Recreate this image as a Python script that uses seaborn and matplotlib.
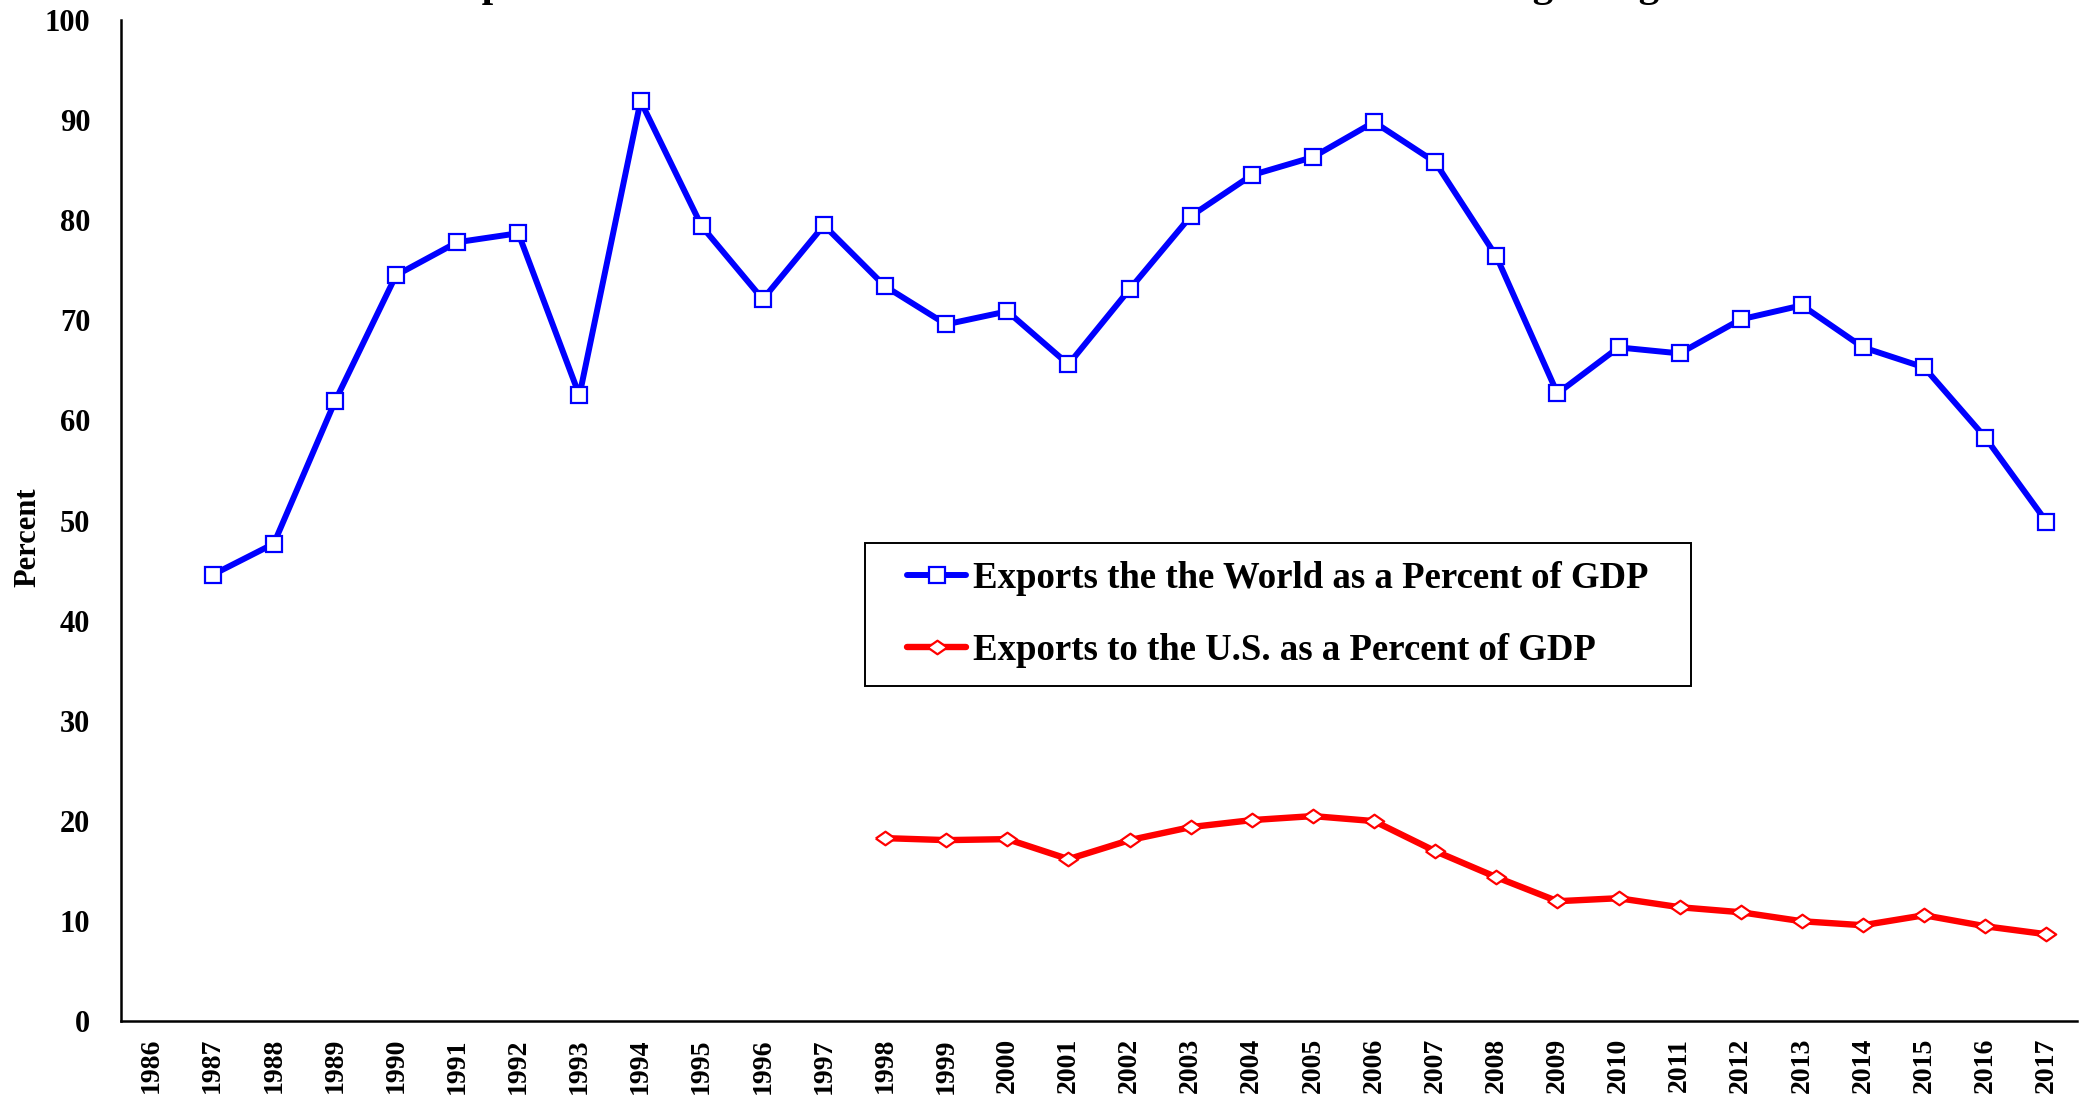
import numpy as np
import pandas as pd
import seaborn as sns
import matplotlib
matplotlib.use("Agg")
import matplotlib.pyplot as plt
from matplotlib.patches import Rectangle
from matplotlib.ticker import FixedLocator, NullFormatter

# ---- data ----
years = list(range(1986, 2018))
world_pct = [np.nan, 44.6, 47.7, 61.9, 74.5, 77.8, 78.7, 62.5, 91.9, 79.4,
             72.1, 79.5, 73.4, 69.6, 70.9, 65.6, 73.1, 80.4, 84.5, 86.3,
             89.8, 85.8, 76.4, 62.7, 67.3, 66.7, 70.1, 71.5, 67.3, 65.3,
             58.3, 49.9]
us_pct = [np.nan] * 12 + [18.3, 18.1, 18.2, 16.2, 18.1, 19.4, 20.1, 20.5,
                          20.0, 17.0, 14.4, 12.0, 12.3, 11.4, 10.9, 10.0,
                          9.6, 10.6, 9.5, 8.7]
world_label = "Exports the the World as a Percent of GDP"
us_label = "Exports to the U.S. as a Percent of GDP"
title_text = "Exports to the World and to the U.S. as a Percent of GDP: Hong Kong"
y_ticks = list(range(0, 101, 10))

df = pd.DataFrame({"year": years, "world": world_pct, "us": us_pct})

sns.set_theme(style="white")
plt.rcParams["font.family"] = ["Liberation Serif", "DejaVu Serif"]
plt.rcParams["font.weight"] = "bold"
plt.rcParams["text.color"] = "black"
plt.rcParams["axes.labelcolor"] = "black"
plt.rcParams["xtick.color"] = "black"
plt.rcParams["ytick.color"] = "black"

W, H = 2080, 1101
fig = plt.figure(figsize=(20.8, 11.01), dpi=100)
ax = fig.add_axes([121 / W, 1 - 1021.4 / H, (2077 - 121) / W, (1021.4 - 19.9) / H])

flat_diamond = [(-1, 0), (0, 0.7), (1, 0), (0, -0.7), (-1, 0)]

sns.lineplot(data=df, x="year", y="world", ax=ax, color="#0000FF", linewidth=4.3,
             marker="s", markersize=12, markerfacecolor="white",
             markeredgecolor="#0000FF", markeredgewidth=1.6, label=world_label)
sns.lineplot(data=df, x="year", y="us", ax=ax, color="#FF0000", linewidth=4.6,
             marker=flat_diamond, markersize=14, markerfacecolor="white",
             markeredgecolor="#FF0000", markeredgewidth=1.6, label=us_label)

ax.set_xlim(years[0] - 0.5, years[-1] + 0.5)
ax.set_ylim(0, 100)

# x: labels centred in categories, tick marks at category boundaries
ax.xaxis.set_major_locator(FixedLocator(years))
ax.set_xticklabels([str(y) for y in years], rotation=90, fontsize=20,
                   fontweight="bold", color="black")
ax.xaxis.set_minor_locator(FixedLocator([y + 0.5 for y in years]))
ax.xaxis.set_minor_formatter(NullFormatter())
ax.tick_params(axis="x", which="major", length=0, pad=12)
ax.tick_params(axis="x", which="minor", direction="in", length=6, width=1.3, color="black")

ax.set_yticks(y_ticks)
ax.set_yticklabels([str(v) for v in y_ticks], fontsize=22, fontweight="bold", color="black")
ax.tick_params(axis="y", direction="in", length=9, width=1.3, color="black", pad=22)

for s in ["top", "right"]:
    ax.spines[s].set_visible(False)
for s in ["left", "bottom"]:
    ax.spines[s].set_color("black")
    ax.spines[s].set_linewidth(1.8)

ax.set_xlabel("")
ax.set_ylabel("")
fig.text(28 / W, 1 - 537 / H, "Percent", rotation=90, ha="center", va="center",
         fontsize=22, fontweight="bold", color="black")

# legend: contents centred in a plain black box
box_l, box_t, box_r, box_b = 865, 542.5, 1691, 686
ax.add_patch(Rectangle((box_l / W, 1 - box_b / H), (box_r - box_l) / W,
                       (box_b - box_t) / H, transform=fig.transFigure,
                       facecolor="white", edgecolor="black", linewidth=1.4,
                       zorder=4, clip_on=False))
leg = ax.legend(loc="center", bbox_to_anchor=((box_l + box_r) / 2 / W, 1 - (box_t + box_b) / 2 / H),
                bbox_transform=fig.transFigure, frameon=False,
                prop={"family": "Liberation Serif", "weight": "bold", "size": 26.5},
                handlelength=1.6, handletextpad=0.2, borderpad=0.3,
                labelspacing=1.0, labelcolor="black")
leg.set_zorder(6)

# title sits just above the canvas (only descenders visible, as in the source)
fig.text(1047 / W, 1 + 4 / H, title_text, ha="center", va="baseline",
         fontsize=29.5, fontweight="bold", color="black")

fig.savefig("out.png", dpi=100, facecolor="white")
